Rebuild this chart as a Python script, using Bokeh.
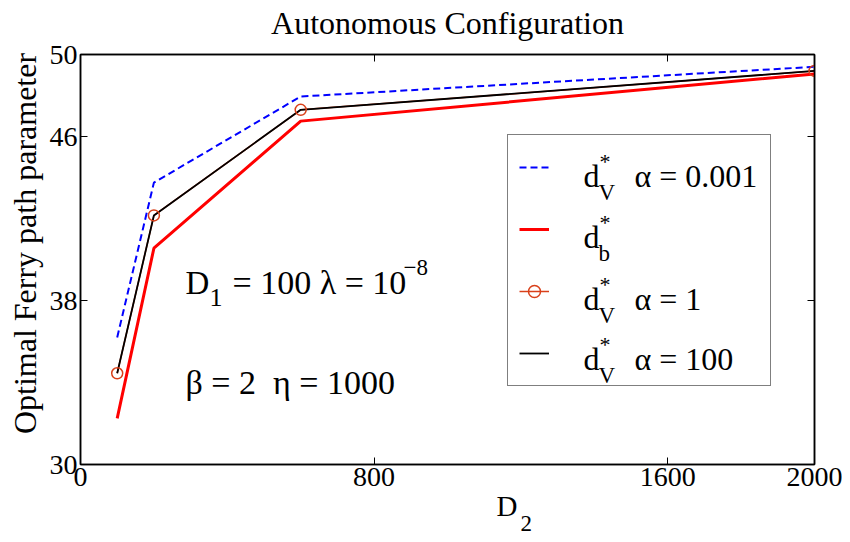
from bokeh.plotting import figure
from bokeh.models import Range1d, FixedTicker, LinearAxis, Legend, LegendItem, Title
from bokeh.core.properties import value
from bokeh.embed import file_html
from bokeh.resources import INLINE

# ---------------- data ----------------
d2 = [100, 200, 600, 2000]
dv_alpha_0001 = [36.2, 43.75, 47.95, 49.4]
db = [32.25, 40.55, 46.75, 49.05]
dv_alpha_1 = [34.45, 42.15, 47.3, 49.2]
dv_alpha_100 = [34.45, 42.15, 47.3, 49.2]
x_ticks = [0, 800, 1600, 2000]
y_ticks = [30, 38, 46, 50]
x_range = (0, 2000)
y_range = (30, 50)

title_text = "Autonomous Configuration"
ylabel_text = "Optimal Ferry path parameter"
legend_main = ["d", "d", "d", "d"]
legend_sup = ["*", "*", "*", "*"]
legend_sub = ["V", "b", "V", "V"]
legend_rest = ["\u03b1 = 0.001", "", "\u03b1 = 1", "\u03b1 = 100"]

FONT = "Liberation Serif"
BLUE = "#0000ff"
RED = "#ff0000"
ORANGE = "#d9401a"
BLACK = "#000000"

# layout (page pixels); the canvas is lifted by SHIFT px so the title can sit higher
SHIFT = 10
W, H = 842, 534
FL, FR, FT, FB = 80, 814, 54, 464

p = figure(width=W, height=H + SHIFT, x_range=Range1d(*x_range), y_range=Range1d(*y_range),
           output_backend="svg", toolbar_location=None,
           min_border_left=FL, min_border_right=W - FR, min_border_top=FT + SHIFT,
           min_border_bottom=H - FB, title=title_text)
p.styles = {"margin-top": f"-{SHIFT}px"}
p.title.text_font = FONT
p.title.text_font_size = "32px"
p.title.text_font_style = "normal"
p.title.text_color = BLACK
p.title.align = "center"
p.title.vertical_align = "top"
p.title.standoff = 23
p.xgrid.visible = False
p.ygrid.visible = False
p.outline_line_color = BLACK
p.outline_line_width = 1.5
p.background_fill_color = "white"
p.border_fill_color = "white"

p.xaxis.ticker = FixedTicker(ticks=x_ticks)
p.yaxis.ticker = FixedTicker(ticks=y_ticks)
# leading no-break spaces nudge the rotated label upwards, as in the reference
p.yaxis.axis_label = "\u00a0" * 4 + ylabel_text

def style_axis(ax, labels=True):
    ax.axis_line_color = BLACK
    ax.axis_line_width = 1.5
    ax.major_tick_in = 7
    ax.major_tick_out = 0
    ax.major_tick_line_color = BLACK
    ax.major_tick_line_width = 1
    ax.minor_tick_line_color = None
    ax.major_label_text_font = FONT
    ax.major_label_text_color = BLACK
    ax.major_label_text_font_size = "28px" if labels else "0px"
    ax.major_label_standoff = 3 if labels else 0
    ax.axis_label_text_font = FONT
    ax.axis_label_text_font_style = "normal"
    ax.axis_label_text_font_size = "32px"
    ax.axis_label_text_color = BLACK
    ax.axis_label_standoff = 4

for ax in p.xaxis + p.yaxis:
    style_axis(ax)

top = LinearAxis(ticker=FixedTicker(ticks=x_ticks))
right = LinearAxis(ticker=FixedTicker(ticks=y_ticks))
style_axis(top, labels=False)
style_axis(right, labels=False)
p.add_layout(top, "above")
p.add_layout(right, "right")

# x-axis label "D" with subscript "2" as titles below the axis
p.add_layout(Title(text="D", align="left", offset=496 - FL, standoff=-2,
                   text_font=FONT, text_font_size="29px", text_font_style="normal",
                   text_color=BLACK), "below")
p.add_layout(Title(text="2", align="left", offset=520 - FL, standoff=-20,
                   text_font=FONT, text_font_size="23px", text_font_style="normal",
                   text_color=BLACK), "below")

# ---------------- series ----------------
r_blue = p.line(d2, dv_alpha_0001, line_color=BLUE, line_width=2, line_dash="7 4")
r_red = p.line(d2, db, line_color=RED, line_width=3)
r_orange = p.line(d2, dv_alpha_1, line_color=ORANGE, line_width=1.5)
r_black = p.line(d2, dv_alpha_100, line_color=BLACK, line_width=1.8)
r_circ = p.scatter(d2, dv_alpha_1, marker="circle", size=11, line_color=ORANGE,
                   line_width=1.5, fill_color=None)

# ---------------- in-frame texts (pixel offsets from the frame centre) ----------------
AX, AY = (x_range[0] + x_range[1]) / 2, (y_range[0] + y_range[1]) / 2
PX, PY = (FL + FR) / 2, (FT + FB) / 2

def add_texts(xs, ys, texts, size):
    n = len(texts)
    p.text(x=[AX] * n, y=[AY] * n, text=texts,
           x_offset=[x - PX for x in xs], y_offset=[y - PY for y in ys],
           text_font=value(FONT), text_font_size=value(f"{size}px"),
           text_color=BLACK, text_baseline="alphabetic", text_align="left")

row_base = [175, 236, 298, 358]
add_texts([583] * 4, row_base, legend_main, 32)
add_texts([599] * 4, [b - 14 for b in row_base], legend_sup, 22)
add_texts([598] * 4, [b + 17 for b in row_base], legend_sub, 23)
rest_idx = [i for i, t in enumerate(legend_rest) if t]
add_texts([634] * len(rest_idx), [row_base[i] for i in rest_idx],
          [legend_rest[i] for i in rest_idx], 32)

add_texts([185], [282], ["D"], 33)
add_texts([232], [282], ["= 100 \u03bb = 10"], 34)
add_texts([185], [382], ["\u03b2 = 2\u00a0 \u03b7 = 1000"], 34)
add_texts([209], [297], ["1"], 26)
add_texts([403], [267], ["\u22128"], 23)

# ---------------- legend ----------------
items = [LegendItem(label=" ", renderers=[r_blue]),
         LegendItem(label=" ", renderers=[r_red]),
         LegendItem(label=" ", renderers=[r_orange, r_circ]),
         LegendItem(label=" ", renderers=[r_black])]
legend = Legend(items=items, location=(507 - FL, FB - 386), orientation="vertical",
                padding=11, spacing=20, margin=0,
                glyph_width=30, glyph_height=42, label_height=42, label_width=205,
                label_standoff=5, label_text_font_size="8px",
                border_line_color=BLACK, border_line_width=1,
                background_fill_alpha=0.0)
p.add_layout(legend)

open("out.html", "w").write(file_html(p, INLINE))
